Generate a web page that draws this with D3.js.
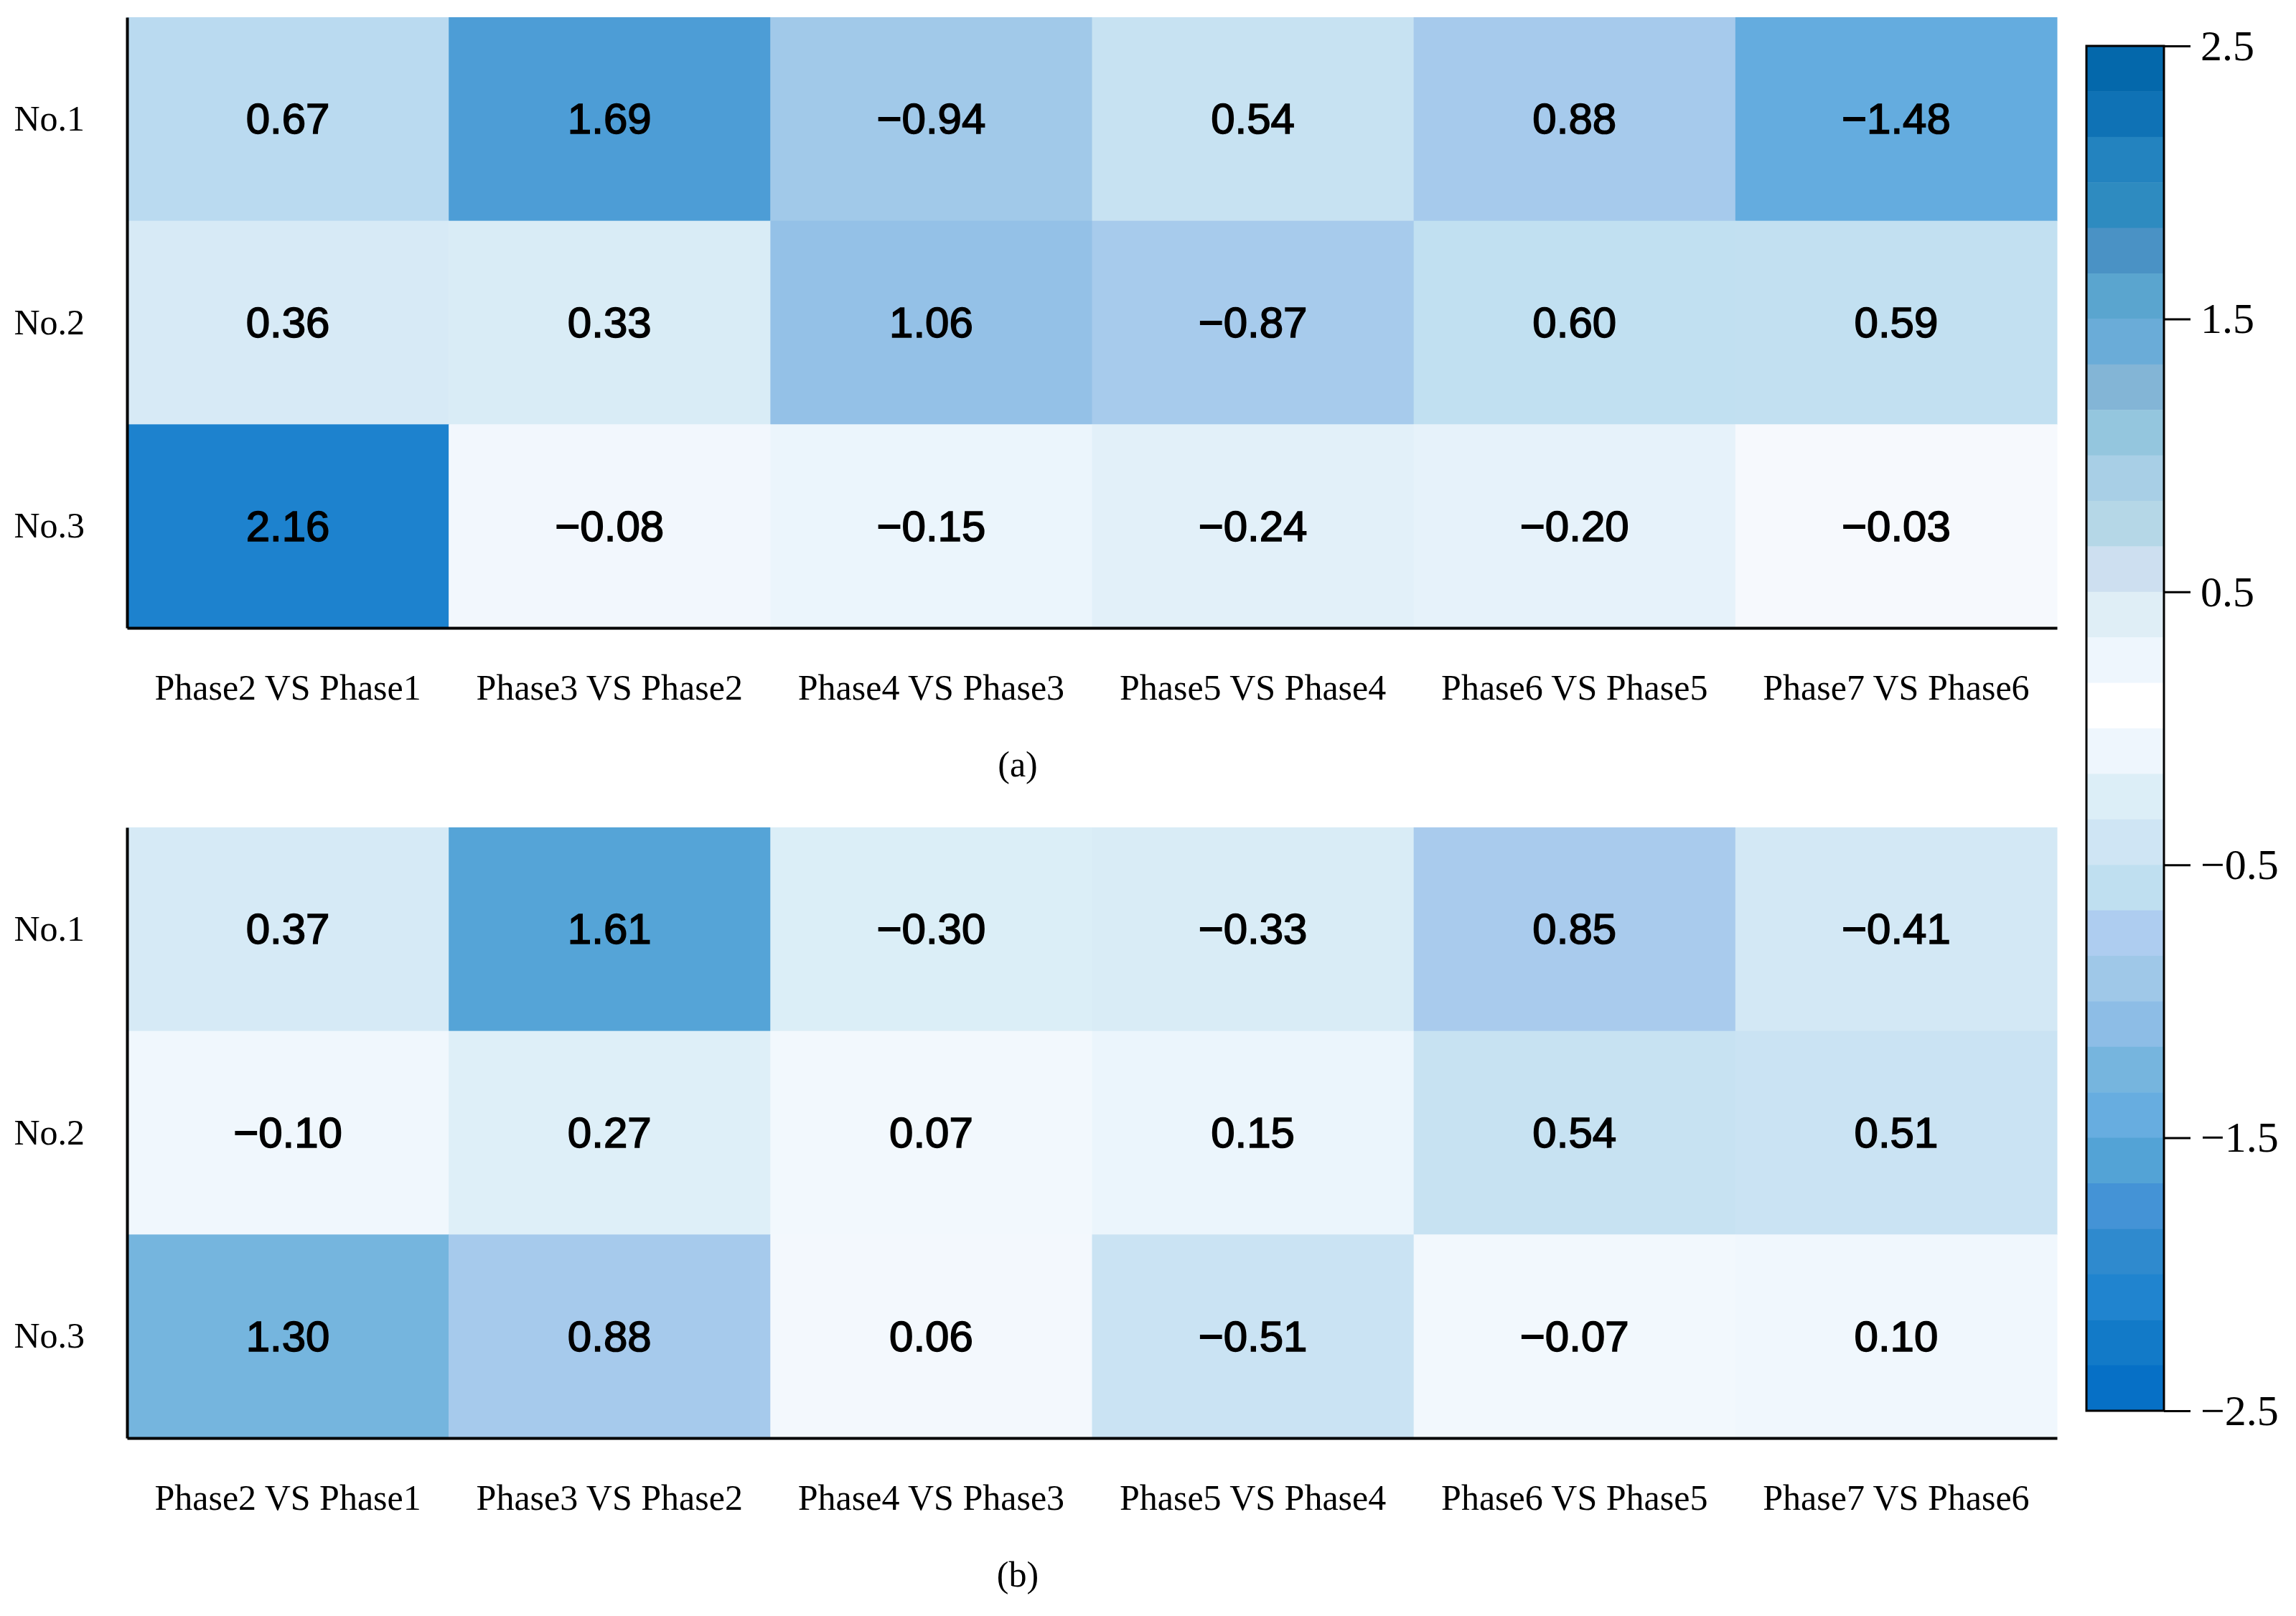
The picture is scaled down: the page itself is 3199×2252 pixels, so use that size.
<!DOCTYPE html>
<html>
<head>
<meta charset="utf-8">
<title>Phase comparison heatmaps</title>
<script src="https://d3js.org/d3.v7.min.js"></script>
<style>
  body { margin: 0; background: #fff; }
</style>
</head>
<body>
<script>
// data
var rows = ["No.1", "No.2", "No.3"];
var phases = ["Phase2 VS Phase1", "Phase3 VS Phase2", "Phase4 VS Phase3",
              "Phase5 VS Phase4", "Phase6 VS Phase5", "Phase7 VS Phase6"];
var valuesA = [
  [0.67, 1.69, -0.94, 0.54, 0.88, -1.48],
  [0.36, 0.33, 1.06, -0.87, 0.60, 0.59],
  [2.16, -0.08, -0.15, -0.24, -0.20, -0.03]
];
var valuesB = [
  [0.37, 1.61, -0.30, -0.33, 0.85, -0.41],
  [-0.10, 0.27, 0.07, 0.15, 0.54, 0.51],
  [1.30, 0.88, 0.06, -0.51, -0.07, 0.10]
];
var panelLabels = ["(a)", "(b)"];
var cbTicks = [2.5, 1.5, 0.5, -0.5, -1.5, -2.5];
// colorbar bands, top (2.5) to bottom (-2.5), 1/6 unit each
var cbColors = [
  "#0468ab", "#0f72b5", "#2383bf", "#2e8bc0", "#4a92c5", "#5aa5cf",
  "#6aacd8", "#83b5d6", "#94c6de", "#a8cfe6", "#b5d7e7", "#cddff0",
  "#dfeef6", "#eef6fd", "#ffffff",
  "#eef6fd", "#dceef7", "#cfe5f4", "#bfdff0", "#aecdf0", "#9fc8e8",
  "#8dbde6", "#76b5de", "#67ade0", "#53a3d6", "#4493d6", "#2f8ace",
  "#2084cf", "#127ac8", "#0670c6"
];

var W = 3199, H = 2252;
var svg = d3.select("body").append("svg")
  .attr("width", W).attr("height", H);

var serif = "'Liberation Serif', 'Times New Roman', serif";
var sans = "'Liberation Sans', Arial, sans-serif";
var fmt = function(v){ return d3.format(".2f")(v).replace("-", "\u2212"); };

// cell colour by magnitude, following the lower half of the colour bar
var stopVals = d3.range(15).map(function(i){ return (i + 0.75) / 6; });
stopVals.unshift(0);
var stopCols = cbColors.slice(15);
stopCols.unshift("#f8fafd");
var color = d3.scaleLinear().domain(stopVals).range(stopCols)
  .interpolate(d3.interpolateRgb).clamp(true);

var x = d3.scaleBand().domain(phases).range([177, 2866]);

function panel(values, top, label) {
  var y = d3.scaleBand().domain(rows).range([top, top + 851]);
  var g = svg.append("g");

  var cells = [];
  values.forEach(function(r, i){
    r.forEach(function(v, j){ cells.push({row: rows[i], col: phases[j], v: v}); });
  });

  g.selectAll(".cell").data(cells).enter().append("rect")
    .attr("x", function(d){ return x(d.col); })
    .attr("y", function(d){ return y(d.row); })
    .attr("width", x.bandwidth() + 0.5)
    .attr("height", y.bandwidth() + 0.5)
    .attr("fill", function(d){ return color(Math.abs(d.v)); });

  g.selectAll(".val").data(cells).enter().append("text")
    .attr("x", function(d){ return x(d.col) + x.bandwidth() / 2; })
    .attr("y", function(d){ return y(d.row) + y.bandwidth() / 2; })
    .attr("text-anchor", "middle")
    .attr("dominant-baseline", "central")
    .style("font-family", sans)
    .style("font-size", "60px")
    .attr("fill", "#000")
    .attr("stroke", "#000")
    .attr("stroke-width", 1.6)
    .text(function(d){ return fmt(d.v); });

  var gx = g.append("g")
    .attr("transform", "translate(0," + (top + 851) + ")")
    .call(d3.axisBottom(x).tickSize(0).tickPadding(64));
  var gy = g.append("g")
    .attr("transform", "translate(177,0)")
    .call(d3.axisLeft(y).tickSize(0).tickPadding(59));
  [gx, gy].forEach(function(a){
    a.select(".domain").attr("stroke", "#000").attr("stroke-width", 4);
    a.selectAll("text").style("font-family", serif).style("font-size", "50px")
      .attr("fill", "#000");
  });

  g.append("text")
    .attr("x", 1418).attr("y", top + 1058)
    .attr("text-anchor", "middle")
    .style("font-family", serif).style("font-size", "50px")
    .text(label);
}

panel(valuesA, 24, panelLabels[0]);
panel(valuesB, 1153, panelLabels[1]);

// colour bar
var cbX = 2907, cbW = 108;
var cbY = d3.scaleLinear().domain([2.5, -2.5]).range([64, 1966]);
var cb = svg.append("g");
cb.selectAll("rect.band").data(cbColors).enter().append("rect")
  .attr("class", "band")
  .attr("x", cbX)
  .attr("y", function(d, i){ return cbY(2.5 - i / 6); })
  .attr("width", cbW)
  .attr("height", function(d, i){ return cbY(2.5 - (i + 1) / 6) - cbY(2.5 - i / 6) + 0.5; })
  .attr("fill", function(d){ return d; });
cb.append("rect")
  .attr("x", cbX).attr("y", cbY(2.5))
  .attr("width", cbW).attr("height", cbY(-2.5) - cbY(2.5))
  .attr("fill", "none").attr("stroke", "#000").attr("stroke-width", 3);

var gc = cb.append("g")
  .attr("transform", "translate(" + (cbX + cbW) + ",0)")
  .call(d3.axisRight(cbY).tickValues(cbTicks).tickSize(37).tickPadding(14)
    .tickFormat(function(v){ return d3.format(".1f")(v).replace("-", "\u2212"); }));
gc.select(".domain").remove();
gc.selectAll("line").attr("stroke", "#000").attr("stroke-width", 3);
gc.selectAll("text").style("font-family", serif).style("font-size", "60px")
  .attr("fill", "#000");
</script>
</body>
</html>
